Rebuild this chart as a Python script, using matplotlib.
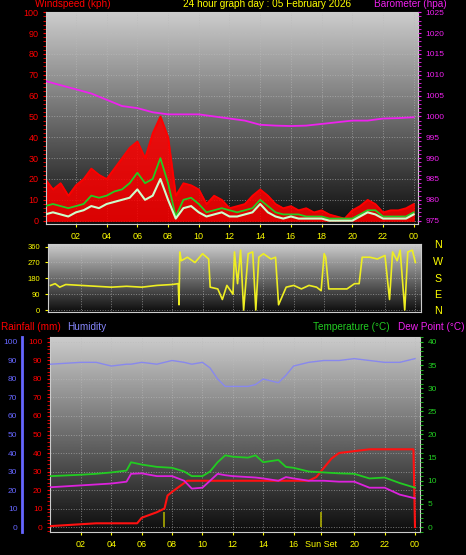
import numpy as np
import matplotlib
matplotlib.use('Agg')
import matplotlib.pyplot as plt
from matplotlib.ticker import MultipleLocator

plt.rcParams['font.family'] = ['Liberation Sans', 'DejaVu Sans']

# ---- data ----
hours = np.arange(0, 24.5, 0.5)
gust = [20, 15, 18, 12, 17, 20, 25, 22, 20, 25, 30, 35, 38, 30, 42, 50, 40, 12, 18, 17,
        15, 8, 12, 10, 6, 7, 8, 12, 15, 12, 8, 6, 7, 5, 6, 4, 5, 3, 2, 1,
        5, 7, 10, 8, 4, 5, 5, 6, 8]
wind_avg = [7, 8, 7, 6, 7, 8, 12, 11, 12, 14, 15, 18, 23, 18, 20, 30, 18, 2, 10, 11,
            8, 4, 5, 6, 5, 4, 5, 6, 10, 7, 4, 3, 3, 3, 2, 2, 2, 1, 1, 1,
            1, 3, 5, 5, 2, 2, 2, 2, 4]
wind_spd = [3, 4, 3, 2, 4, 5, 7, 6, 8, 9, 10, 11, 15, 10, 12, 20, 10, 1, 6, 7,
            4, 2, 3, 4, 2, 2, 3, 4, 8, 4, 2, 1, 2, 1, 1, 1, 1, 0, 0, 0,
            0, 2, 4, 3, 1, 1, 1, 1, 3]

baro_h = [0, 1, 2, 3, 4, 5, 6, 7, 8, 9, 10, 11, 12, 13, 14, 15, 16, 17, 18, 19, 20, 21, 22, 23, 24]
baro = [1008.5, 1007.5, 1006.5, 1005.5, 1004, 1002.5, 1002, 1001, 1000.5, 1000.5, 1000.5, 1000,
        999.5, 999, 998, 997.8, 997.7, 997.8, 998.2, 998.6, 999, 999, 999.5, 999.6, 999.8]

dir_h = [0, 0.3, 0.6, 1, 2, 3, 4, 5, 6, 7, 8, 8.4, 8.45, 8.5, 8.6, 9, 9.5, 10, 10.4, 10.5, 11,
         11.3, 11.6, 12, 12.1, 12.3, 12.5, 12.7, 13, 13.3, 13.5, 13.7, 14, 14.5, 14.8, 15, 15.5,
         16, 16.5, 17, 17.5, 17.8, 18, 18.1, 18.3, 18.5, 19, 19.5, 20, 20.3, 20.5, 21, 21.5, 22,
         22.3, 22.5, 22.8, 23, 23.3, 23.5, 23.8, 24]
direction = [140, 150, 130, 145, 140, 135, 130, 135, 130, 140, 145, 150, 30, 330, 280, 300, 270, 320, 290, 130, 120,
             60, 140, 90, 330, 150, 340, 0, 320, 330, 0, 300, 320, 290, 300, 30, 130,
             140, 120, 140, 130, 110, 320, 300, 120, 120, 120, 120, 150, 150, 300, 300, 290, 310,
             60, 330, 280, 340, 0, 330, 340, 270]

bot_h = [0, 2, 3, 4, 5, 5.3, 6, 7, 8, 8.8, 9.3, 10, 10.5, 11, 11.5, 12, 13, 13.5, 14, 15, 15.5, 16,
         17, 18, 19, 20, 21, 22, 23, 24]
humidity = [88, 89, 89, 87, 88, 88, 89, 88, 90, 89, 88, 89, 86, 80, 76, 76, 76, 77, 80, 78, 82, 87,
            89, 90, 90, 91, 90, 89, 89, 91]
temperature = [11, 11.3, 11.5, 11.8, 12.2, 14, 13.5, 13, 12.8, 12, 11, 11, 12, 14, 15.5, 15.2, 15, 15.5,
               14, 14.5, 13, 12.8, 12, 11.8, 11.6, 11.5, 10.5, 10.7, 9.5, 8.5]
dewpoint = [8.6, 9, 9.2, 9.4, 9.8, 11.5, 11.6, 11, 11, 10, 8.3, 8.5, 10, 11.5, 11.2, 11, 10.8, 10.7,
            10.5, 10, 10.8, 10.5, 10, 10, 9.8, 9.8, 8.5, 8.5, 7, 6.2]
rain_h = [0, 1, 2, 3, 4, 5, 5.7, 6, 7, 7.5, 7.7, 8, 8.5, 9, 10, 12, 14, 16, 17, 17.5, 18, 18.5,
          19, 20, 21, 23.9, 24]
rainfall = [0.5, 1, 1.5, 2, 2, 2, 2, 5, 8, 10, 17, 19, 22, 25, 25, 25, 25, 25, 25, 27, 32, 37,
            40, 41, 42, 42, 0]
sun_events = [7.5, 17.8]

W, H = 466, 555
fig = plt.figure(figsize=(W / 100, H / 100), dpi=100, facecolor='black')


def px_axes(l, t, r, b):
    return fig.add_axes([l / W, 1 - b / H, (r - l) / W, (b - t) / H])


grad = np.linspace(0.05, 0.8, 256).reshape(-1, 1)


def style(ax):
    ax.set_facecolor('black')
    ax.imshow(grad, extent=[0, 1, 0, 1], transform=ax.transAxes, aspect='auto',
              cmap='gray', vmin=0, vmax=1, origin='lower', zorder=0)
    ax.grid(True, color='#bbbbbb', linestyle=':', linewidth=0.7, alpha=0.6)
    for s in ax.spines.values():
        s.set_color('#cccccc')
    ax.tick_params(labelsize=6.5, length=2)


xt = list(range(2, 25, 2))
xl = ['%02d' % (h % 24) for h in xt]
TS = 7.2

# ---- wind / barometer ----
ax = px_axes(46, 12, 418, 224)
style(ax)
ax.set_xlim(0.05, 24.28)
ax.set_ylim(-1.6, 100.1)
ax.fill_between(hours, gust, color='#ff0000', alpha=0.85, zorder=2)
ax.plot(hours, gust, color='#ff0000', lw=1.2, zorder=2)
ax.plot(hours, wind_avg, color='#22cc22', lw=1.3, zorder=3)
ax.plot(hours, wind_spd, color='#ccffcc', lw=1.5, zorder=4)
ax.set_yticks(range(0, 101, 10))
ax.yaxis.set_minor_locator(MultipleLocator(2))
ax.tick_params(axis='y', colors='red', which='both')
ax.set_xticks(xt)
ax.set_xticklabels(xl, color='yellow')
ax.tick_params(axis='x', colors='yellow')
axb = ax.twinx()
axb.set_ylim(974.2, 1025.05)
axb.plot(baro_h, baro, color='#ee22ee', lw=1.3)
axb.set_yticks(range(975, 1026, 5))
axb.yaxis.set_minor_locator(MultipleLocator(1))
axb.tick_params(axis='y', colors='#ee22ee', which='both', labelsize=6, length=2)
for s in axb.spines.values():
    s.set_visible(False)

fig.text(35 / W, 1 - 4 / H, 'Windspeed (kph)', color='red', fontsize=TS, va='center')
fig.text(267 / W, 1 - 4 / H, '24 hour graph day : 05 February 2026', color='yellow',
         fontsize=TS, va='center', ha='center')
fig.text(447 / W, 1 - 4 / H, 'Barometer (hpa)', color='#ee22ee', fontsize=TS,
         va='center', ha='right')

# ---- wind direction ----
axd = px_axes(48, 244, 421, 312)
style(axd)
axd.set_xlim(-0.17, 24.37)
axd.set_ylim(-11, 375)
axd.plot(dir_h, direction, color='#eeee22', lw=1.2)
axd.set_yticks([0, 90, 180, 270, 360])
axd.tick_params(axis='y', colors='yellow', labelsize=5.5)
axd.set_xticks(xt)
axd.set_xticklabels([])
axd.tick_params(axis='x', length=0)
for lab, y in zip(['N', 'W', 'S', 'E', 'N'], [245, 262, 279, 295, 311]):
    fig.text(438 / W, 1 - y / H, lab, color='yellow', fontsize=TS + 0.5, ha='center', va='center')

# ---- rain / humidity / temperature ----
fig.text(1 / W, 1 - 327 / H, 'Rainfall (mm)', color='red', fontsize=TS, va='center')
fig.text(67 / W, 1 - 327 / H, 'Humidity', color='#8888ff', fontsize=TS, va='center')
fig.text(313 / W, 1 - 327 / H, 'Temperature (°C)', color='#22cc22', fontsize=TS, va='center')
fig.text(465 / W, 1 - 327 / H, 'Dew Point (°C)', color='#ee22ee', fontsize=TS,
         va='center', ha='right')

axr = px_axes(50, 337, 420, 532)
style(axr)
axr.set_xlim(-0.04, 24.33)
axr.set_ylim(-2.7, 102.7)
axr.plot(bot_h, humidity, color='#8888ee', lw=1.0, zorder=3)
axr.plot(rain_h, rainfall, color='#ff1111', lw=1.5, zorder=5)
axr.vlines(sun_events, 0, 8, color='#aaaa00', lw=1.2, zorder=4)
axr.set_yticks(range(0, 101, 10))
axr.yaxis.set_minor_locator(MultipleLocator(2))
axr.tick_params(axis='y', colors='red', which='both', labelsize=6, length=2)
xt2 = [h for h in xt if h != 18] + [17.8]
xl2 = ['%02d' % (h % 24) for h in xt if h != 18] + ['Sun Set']
axr.set_xticks(xt2)
axr.set_xticklabels(xl2, color='yellow')
axr.tick_params(axis='x', colors='yellow')

axt = axr.twinx()
axt.set_ylim(-1.08, 41.08)
axt.plot(bot_h, temperature, color='#22cc22', lw=1.3, zorder=3)
axt.plot(bot_h, dewpoint, color='#dd22dd', lw=1.3, zorder=2)
axt.set_yticks(range(0, 41, 5))
axt.yaxis.set_minor_locator(MultipleLocator(1))
axt.tick_params(axis='y', colors='#22cc22', which='both', labelsize=6, length=2)
for s in axt.spines.values():
    s.set_visible(False)

axh = axr.twinx()
axh.set_ylim(-2.7, 102.7)
axh.yaxis.tick_left()
axh.spines['left'].set_position(('outward', 20))
axh.spines['left'].set_color('#6666ff')
axh.spines['left'].set_linewidth(2)
for k in ['right', 'top', 'bottom']:
    axh.spines[k].set_visible(False)
axh.set_yticks(range(0, 101, 10))
axh.tick_params(axis='y', colors='#6666ff', labelsize=6, length=0)

fig.savefig('out.png', dpi=100, facecolor='black')
